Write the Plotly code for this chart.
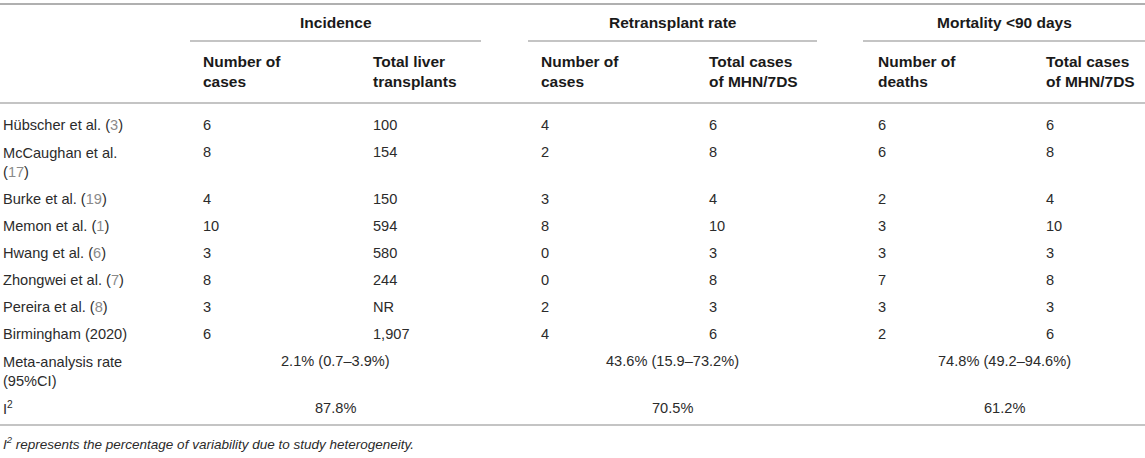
import plotly.graph_objects as go

# ---------------- data ----------------
studies = ["Hübscher et al.", "McCaughan et al.", "Burke et al.", "Memon et al.",
           "Hwang et al.", "Zhongwei et al.", "Pereira et al.", "Birmingham (2020)"]
refs = ["3", "17", "19", "1", "6", "7", "8", ""]
inc_cases = ["6", "8", "4", "10", "3", "8", "3", "6"]
inc_total = ["100", "154", "150", "594", "580", "244", "NR", "1,907"]
re_cases = ["4", "2", "3", "8", "0", "0", "2", "4"]
re_total = ["6", "8", "4", "10", "3", "8", "3", "6"]
mort_deaths = ["6", "6", "2", "3", "3", "7", "3", "2"]
mort_total = ["6", "8", "4", "10", "3", "8", "3", "6"]
groups = ["Incidence", "Retransplant rate", "Mortality &lt;90 days"]
subheads = ["Number of<br>cases", "Total liver<br>transplants",
            "Number of<br>cases", "Total cases<br>of MHN/7DS",
            "Number of<br>deaths", "Total cases<br>of MHN/7DS"]
meta_label = "Meta-analysis rate<br>(95%CI)"
meta_rates = ["2.1% (0.7–3.9%)", "43.6% (15.9–73.2%)", "74.8% (49.2–94.6%)"]
i2_label = "I<sup>2</sup>"
i2_values = ["87.8%", "70.5%", "61.2%"]
footnote = "I<sup>2</sup> represents the percentage of variability due to study heterogeneity."

# ---------------- layout constants ----------------
W, H = 1145, 458
FONT = "Liberation Sans, Arial, Helvetica, sans-serif"
TXT = "#2b2b2b"
HDR = "#1a1a1a"
REFC = "#8a8a8a"
LINEC = "#b0b0b0"
FS = 14.6
FSH = 15.5
col_x = [1, 201, 371, 539, 707, 876, 1044]
group_span = [(190, 481), (528, 817), (863, W)]
PITCH, LH = 27, 20

fig = go.Figure()
fig.add_trace(go.Scatter(x=[0, W], y=[0, H], mode="markers",
                         marker=dict(opacity=0), hoverinfo="skip", showlegend=False))

ann = []


def put(x, y, text, nlines=1, bold=False, anchor="left", size=FS, color=TXT, italic=False):
    yc = y + (nlines - 1) * LH / 2.0
    t = text
    if bold:
        t = "<b>" + t.replace("<br>", "</b><br><b>") + "</b>"
    if italic:
        t = "<i>" + t + "</i>"
    ann.append(dict(x=x, y=yc, xref="x", yref="y", text=t, showarrow=False,
                    xanchor=anchor, yanchor="middle", align=anchor,
                    font=dict(family=FONT, size=size, color=color)))


# group headers
for g, (a, b) in zip(groups, group_span):
    put((a + b) / 2, 22, g, bold=True, anchor="center", color=HDR, size=FSH)
# sub headers
for i, s in enumerate(subheads):
    put(col_x[i + 1], 61, s, nlines=2, bold=True, color=HDR, size=FSH)

# body rows
y = 125
for i, st in enumerate(studies):
    if refs[i]:
        ref = "(<span style='color:%s'>%s</span>)" % (REFC, refs[i])
        full = st + " (" + refs[i] + ")"
        label = st + ("<br>" if len(full) > 20 else " ") + ref
    else:
        label = st
    n = label.count("<br>") + 1
    put(col_x[0], y, label, nlines=n)
    vals = [inc_cases[i], inc_total[i], re_cases[i], re_total[i], mort_deaths[i], mort_total[i]]
    for j, v in enumerate(vals):
        put(col_x[j + 1], y, v)
    y += PITCH + (n - 1) * LH

# meta-analysis row
put(col_x[0], y, meta_label, nlines=2)
for v, (a, b) in zip(meta_rates, group_span):
    put((a + b) / 2, y, v, anchor="center")
y += PITCH + LH
# I2 row
put(col_x[0], y, i2_label)
for v, (a, b) in zip(i2_values, group_span):
    put((a + b) / 2, y, v, anchor="center")

# footnote
put(col_x[0], 443, footnote, italic=True, size=13.5)

shapes = [
    dict(type="line", x0=0, x1=W, y0=4, y1=4, line=dict(color=LINEC, width=2.2)),
    dict(type="line", x0=0, x1=W, y0=103, y1=103, line=dict(color=LINEC, width=1.6)),
    dict(type="line", x0=0, x1=W, y0=425, y1=425, line=dict(color=LINEC, width=1.6)),
]
for a, b in group_span:
    shapes.append(dict(type="line", x0=a, x1=b, y0=41, y1=41, line=dict(color=LINEC, width=1.6)))
for s in shapes:
    s.update(xref="x", yref="y", layer="above")

fig.update_layout(
    width=W, height=H, margin=dict(l=0, r=0, t=0, b=0),
    paper_bgcolor="white", plot_bgcolor="white",
    xaxis=dict(range=[0, W], visible=False, fixedrange=True),
    yaxis=dict(range=[H, 0], visible=False, fixedrange=True),
    annotations=ann, shapes=shapes, showlegend=False,
)
fig.write_html("out.html", config={"displayModeBar": False},
               post_script="document.body.style.margin='0';document.body.style.overflow='hidden';")
